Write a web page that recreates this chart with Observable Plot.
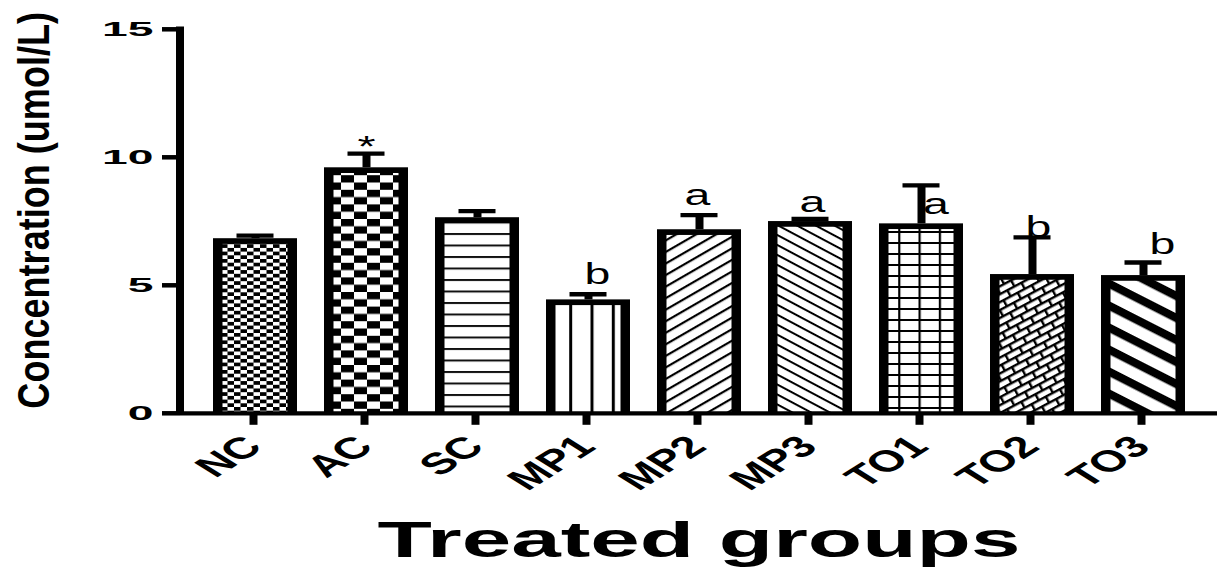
<!DOCTYPE html>
<html>
<head>
<meta charset="utf-8">
<script src="https://cdn.jsdelivr.net/npm/d3@7"></script>
<script src="https://cdn.jsdelivr.net/npm/@observablehq/plot@0.6"></script>
<style>
  html, body { margin: 0; padding: 0; background: #fff; }
  #chart { width: 1217px; height: 567px; overflow: hidden; }
</style>
</head>
<body>
<div id="chart"></div>
<script>
// Treatment groups, mean concentration (umol/L) and upper error (SEM)
const groups  = ["NC", "AC", "SC", "MP1", "MP2", "MP3", "TO1", "TO2", "TO3"];
const means   = [6.82, 9.59, 7.64, 4.43, 7.17, 7.49, 7.40, 5.42, 5.38];
const errors  = [0.12, 0.55, 0.26, 0.22, 0.57, 0.10, 1.50, 1.45, 0.51];
// Significance marks shown above each group
const letters = ["", "*", "", "b", "a", "a", "a", "b", "b"];
const yTicks  = [0, 5, 10, 15];

const yTitle = "Concentration (umol/L)";
const xTitle = "Treated groups";

const rows = groups.map((g, i) => ({group: g, mean: means[i], err: errors[i], letter: letters[i], i}));

// Fill pattern of each bar (SVG pattern definitions)
const patternDefs = [
  `<pattern id="pat-0" patternUnits="userSpaceOnUse" width="13" height="7.4">
     <rect width="13" height="7.4" fill="#fff"/>
     <rect width="6.5" height="3.7" fill="#000"/><rect x="6.5" y="3.7" width="6.5" height="3.7" fill="#000"/></pattern>`,
  `<pattern id="pat-1" patternUnits="userSpaceOnUse" width="26" height="14.6" x="3">
     <rect width="26" height="14.6" fill="#fff"/>
     <rect width="13" height="7.3" fill="#000"/><rect x="13" y="7.3" width="13" height="7.3" fill="#000"/></pattern>`,
  `<pattern id="pat-2" patternUnits="userSpaceOnUse" width="8" height="11.5" y="3">
     <rect width="8" height="11.5" fill="#fff"/><rect width="8" height="2" fill="#111"/></pattern>`,
  `<pattern id="pat-3" patternUnits="userSpaceOnUse" width="21.3" height="8" x="15.4">
     <rect width="21.3" height="8" fill="#fff"/><rect width="3" height="8" fill="#000"/></pattern>`,
  `<pattern id="pat-4" patternUnits="userSpaceOnUse" width="10" height="10" patternTransform="rotate(-30)">
     <rect width="10" height="10" fill="#fff"/><rect width="10" height="2.2" fill="#000"/></pattern>`,
  `<pattern id="pat-5" patternUnits="userSpaceOnUse" width="10" height="8.8" patternTransform="rotate(28)">
     <rect width="10" height="8.8" fill="#fff"/><rect width="10" height="2" fill="#000"/></pattern>`,
  `<pattern id="pat-6" patternUnits="userSpaceOnUse" width="20.3" height="11" x="5">
     <rect width="20.3" height="11" fill="#fff"/>
     <rect width="20.3" height="2" fill="#000"/><rect width="2.2" height="11" fill="#000"/></pattern>`,
  `<pattern id="pat-7" patternUnits="userSpaceOnUse" width="16" height="14" patternTransform="rotate(-28)">
     <rect width="16" height="14" fill="#fff"/>
     <rect width="16" height="2.4" fill="#000"/><rect y="7" width="16" height="2.4" fill="#000"/>
     <rect width="2.4" height="7" fill="#000"/><rect x="8" y="7" width="2.4" height="7" fill="#000"/></pattern>`,
  `<pattern id="pat-8" patternUnits="userSpaceOnUse" width="10" height="19.6" patternTransform="rotate(27)">
     <rect width="10" height="19.6" fill="#fff"/><rect width="10" height="8.2" fill="#000"/></pattern>`
];

// Small horizontal/vertical nudges (px) for the significance marks
const letterNudge = [[0, 0], [0, 2], [0, 0], [9, -10.7], [-2, -9.7], [2, -7], [14.5, 29], [6, 0], [19, -8.7]];

const font = "'Liberation Sans', Arial, Helvetica, sans-serif";
const W = 1217, H = 567, mL = 180, mR = 0, mT = 28.8, mB = 154.2;

const chart = Plot.plot({
  width: W,
  height: H,
  marginLeft: mL,
  marginRight: mR,
  marginTop: mT,
  marginBottom: mB,
  style: {background: "#fff", color: "#000", fontFamily: font, overflow: "visible"},
  x: {domain: groups, paddingInner: 0.244, paddingOuter: 0.29, align: 0.514, label: null},
  y: {domain: [0, 15], label: null},
  marks: [
    // black body of each bar forms the thick outline
    Plot.barY(rows, {x: "group", y: "mean", fill: "#000"}),
    // patterned interior
    ...rows.map((d) =>
      Plot.barY([d], {x: "group", y: "mean", fill: `url(#pat-${d.i})`,
        insetLeft: 9.5, insetRight: 9.5, insetTop: 5.7})
    ),
    // error bars (upper only)
    Plot.ruleX(rows, {x: "group", y1: "mean", y2: (d) => d.mean + d.err, stroke: "#000", strokeWidth: 8}),
    Plot.tickY(rows, {x: "group", y: (d) => d.mean + d.err, stroke: "#000", strokeWidth: 4.3,
      insetLeft: 23.5, insetRight: 23.5}),
    // axis lines
    Plot.ruleY([0], {stroke: "#000", strokeWidth: 4.3}),
    Plot.rect([0], {y1: 0, y2: 15, fill: "#000", insetLeft: -4, insetRight: W - mL - mR - 4, insetTop: -2.3, insetBottom: -2}),
    // axes
    Plot.axisY({ticks: yTicks, tickFormat: (d) => String(d), tickSize: 18, tickPadding: 9,
      strokeWidth: 4.5, fontSize: 21, fontWeight: "bold", label: null}),
    Plot.axisX({tickSize: 12, tickPadding: 16, strokeWidth: 8, tickRotate: -45, dx: -2,
      fontSize: 30, fontWeight: "bold", label: null}),
    // significance marks
    ...rows.filter((d) => d.letter).map((d) =>
      Plot.text([d], {x: "group", y: (r) => r.mean + r.err, text: "letter",
        dx: letterNudge[d.i][0], dy: letterNudge[d.i][1],
        lineAnchor: "bottom", fontSize: 29, fill: "#000", ariaLabel: () => "group letter"})
    ),
    // axis titles
    Plot.text([yTitle], {frameAnchor: "left", text: (d) => d, dx: -132, dy: -11, rotate: -90,
      textAnchor: "middle", lineAnchor: "bottom", fontSize: 44, fontWeight: "bold", fill: "#000",
      ariaLabel: () => "y title"}),
    Plot.text([xTitle], {frameAnchor: "bottom", text: (d) => d, dy: 143.6, textAnchor: "middle",
      lineAnchor: "bottom", fontSize: 50, fontWeight: "bold", fill: "#000", ariaLabel: () => "x title"})
  ]
});

// pattern definitions
const defs = d3.select(chart).insert("defs", ":first-child");
defs.html(patternDefs.join(""));

// widen or narrow text glyphs; "screen" scales in page space, "glyph" along the text line
function stretchText(svg, selector, sx, sy, mode) {
  svg.querySelectorAll(selector).forEach((t) => {
    const tr = t.getAttribute("transform") || "";
    const s = ` scale(${sx},${sy})`;
    const m = tr.match(/^\s*translate\([^)]*\)/);
    if (mode === "glyph") {
      t.setAttribute("transform", tr + s);
    } else if (m) {
      t.setAttribute("transform", m[0] + s + tr.slice(m[0].length));
    } else {
      const x = +t.getAttribute("x") || 0, y = +t.getAttribute("y") || 0;
      t.setAttribute("transform", `translate(${x},${y})${s} translate(${-x},${-y}) ${tr}`);
    }
  });
}
stretchText(chart, 'g[aria-label="y-axis tick label"] text', 2.2, 1, "screen");
stretchText(chart, 'g[aria-label="x-axis tick label"] text', 1.6, 1, "screen");
stretchText(chart, 'text[aria-label="group letter"]', 1.6, 1, "screen");
stretchText(chart, 'text[aria-label="x title"]', 1.78, 1, "screen");
stretchText(chart, 'text[aria-label="y title"]', 0.82, 1, "glyph");

document.getElementById("chart").appendChild(chart);
</script>
</body>
</html>
